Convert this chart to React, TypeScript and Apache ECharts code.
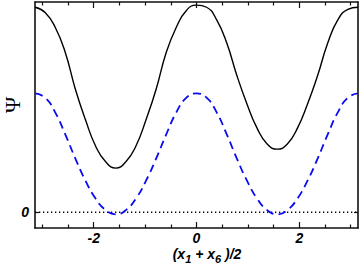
import React, { useEffect, useRef } from "react";
import * as echarts from "echarts";

const PI = 3.14159;

// x positions (multiples of pi/16)
const xs = [
  -3.1416, -2.9452, -2.7489, -2.5525, -2.3562, -2.1598, -1.9635, -1.7671, -1.5708,
  -1.3744, -1.1781, -0.9817, -0.7854, -0.589, -0.3927, -0.1963, 0, 0.1963, 0.3927,
  0.589, 0.7854, 0.9817, 1.1781, 1.3744, 1.5708, 1.7671, 1.9635, 2.1598, 2.3562,
  2.5525, 2.7489, 2.9452, 3.1416,
];

// solid black curve
const psiSolid = [
  1.95, 1.9, 1.76, 1.52, 1.17, 0.88, 0.63, 0.48, 0.42, 0.48, 0.63, 0.88, 1.17, 1.52,
  1.76, 1.92, 1.97, 1.95, 1.83, 1.61, 1.3, 1.03, 0.8, 0.65, 0.6, 0.65, 0.8, 1.03,
  1.3, 1.61, 1.83, 1.93, 1.95,
];

// dashed blue curve
const psiDashed = [
  1.13, 1.09, 0.95, 0.74, 0.51, 0.3, 0.13, 0.02, -0.02, 0.02, 0.13, 0.3, 0.51, 0.74,
  0.95, 1.09, 1.13, 1.09, 0.95, 0.74, 0.51, 0.3, 0.13, 0.02, -0.02, 0.02, 0.13, 0.3,
  0.51, 0.74, 0.95, 1.09, 1.13,
];

const xMajorTicks = [-2, 0, 2];
const xMinorTicks = [-3, -2.5, -1.5, -1, -0.5, 0.5, 1, 1.5, 2.5, 3];
const yTicks = [0];
const zeroLine = [
  [-PI, 0],
  [PI, 0],
];

const labelFont = {
  fontFamily: "Liberation Sans",
  fontWeight: "bold" as const,
  fontStyle: "italic" as const,
  fontSize: 14,
  lineHeight: 13,
  color: "#000",
};

export default function App() {
  const ref = useRef<HTMLDivElement>(null);
  useEffect(() => {
    document.body.style.margin = "0";
    if (!ref.current) return;
    const chart = echarts.init(ref.current, null, { renderer: "svg" });
    const axisLine = { show: true, onZero: false, lineStyle: { color: "#111", width: 1.6 } };
    const noLine = { show: false, onZero: false };
    const baseX = { type: "value", min: -PI, max: PI, splitLine: { show: false } };
    const baseY = { type: "value", min: -0.15, max: 2.0, splitLine: { show: false } };
    chart.setOption({
      animation: false,
      grid: { left: 35, right: 2, top: 2, bottom: 37 },
      xAxis: [
        {
          ...baseX,
          position: "bottom",
          axisLine,
          axisTick: { show: true, inside: true, length: 6, customValues: xMajorTicks, lineStyle: { color: "#111", width: 1.2 } },
          axisLabel: { show: true, customValues: xMajorTicks, margin: 3, ...labelFont, formatter: (v: number) => String(v) },
        },
        {
          ...baseX,
          position: "bottom",
          axisLine: noLine,
          axisTick: { show: true, inside: true, length: 3.5, customValues: xMinorTicks, lineStyle: { color: "#111", width: 1.2 } },
          axisLabel: { show: false },
        },
        {
          ...baseX,
          position: "top",
          axisLine,
          axisTick: { show: true, inside: true, length: 6, customValues: xMajorTicks, lineStyle: { color: "#111", width: 1.2 } },
          axisLabel: { show: false },
        },
        {
          ...baseX,
          position: "top",
          axisLine: noLine,
          axisTick: { show: true, inside: true, length: 3.5, customValues: xMinorTicks, lineStyle: { color: "#111", width: 1.2 } },
          axisLabel: { show: false },
        },
      ],
      yAxis: [
        {
          ...baseY,
          position: "left",
          axisLine,
          axisTick: { show: true, inside: true, length: 4, customValues: yTicks, lineStyle: { color: "#111", width: 1.2 } },
          axisLabel: { show: true, customValues: yTicks, margin: 6, ...labelFont },
        },
        {
          ...baseY,
          position: "right",
          axisLine,
          axisTick: { show: true, inside: true, length: 4, customValues: yTicks, lineStyle: { color: "#111", width: 1.2 } },
          axisLabel: { show: false },
        },
      ],
      graphic: [
        {
          type: "text",
          x: 12,
          y: 105,
          rotation: Math.PI / 2,
          style: {
            text: "Ψ",
            font: '22px "Liberation Serif"',
            fill: "#000",
            align: "center",
            verticalAlign: "middle",
          },
        },
        {
          type: "text",
          x: 207,
          y: 247,
          style: {
            text: "{n|(x}{s|1}{n| + x}{s|6}{n| )/2}",
            align: "center",
            verticalAlign: "top",
            rich: {
              n: { font: 'italic bold 14px "Liberation Sans"', fill: "#000", lineHeight: 13, verticalAlign: "top" },
              s: { font: 'italic bold 11px "Liberation Sans"', fill: "#000", lineHeight: 11, verticalAlign: "top", padding: [6, 0, 0, 0] },
            },
          },
        },
      ],
      series: [
        {
          type: "line",
          xAxisIndex: 0,
          yAxisIndex: 0,
          data: zeroLine,
          showSymbol: false,
          symbol: "none",
          lineStyle: { color: "#000", width: 1.3, type: [1.3, 2.7] },
          silent: true,
        },
        {
          type: "line",
          xAxisIndex: 0,
          yAxisIndex: 0,
          data: xs.map((x, i) => [x, psiDashed[i]]),
          smooth: true,
          symbol: "none",
          lineStyle: { color: "#0a0af0", width: 1.8, type: [8, 5] },
        },
        {
          type: "line",
          xAxisIndex: 0,
          yAxisIndex: 0,
          data: xs.map((x, i) => [x, psiSolid[i]]),
          smooth: true,
          symbol: "none",
          lineStyle: { color: "#000", width: 1.4 },
        },
      ],
    });
    return () => chart.dispose();
  }, []);
  return <div ref={ref} style={{ width: 360, height: 265 }} />;
}
